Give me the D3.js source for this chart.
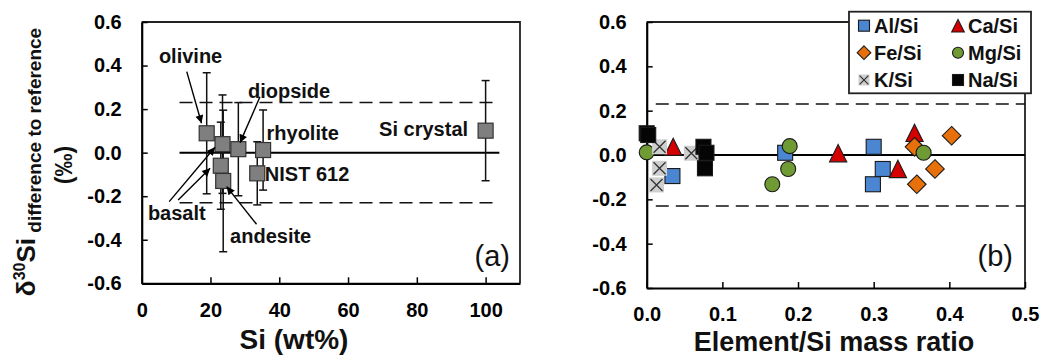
<!DOCTYPE html>
<html><head><meta charset="utf-8">
<script src="https://cdn.jsdelivr.net/npm/d3@7"></script>
<style>
body{margin:0;background:#fff;}
svg{display:block;font-family:"Liberation Sans",Arial,Helvetica,sans-serif;}
</style>
</head><body>
<svg id="c" width="1041" height="356"></svg>
<script>
// ---------------- data: panel (a) ----------------
const sampleNames = ["olivine","basalt","diopside","rhyolite","NIST 612","basalt","andesite","Si crystal"];
const siWt   = [18.9, 23.5, 28.1, 35.3, 33.6, 23.0, 23.7, 100];
const dSi    = [0.089, 0.039, 0.016, 0.012, -0.095, -0.060, -0.130, 0.101];
const dSiErr = [0.278, 0.226, 0.214, 0.184, 0.145, 0.200, 0.325, 0.230];
const refBand = 0.23;
const xTicksA = [0, 20, 40, 60, 80, 100];
const yTicks  = [0.6, 0.4, 0.2, 0.0, -0.2, -0.4, -0.6];

// ---------------- data: panel (b) ----------------
const alX = [0.034, 0.183, 0.300, 0.312, 0.299];
const alY = [-0.095, 0.010, 0.037, -0.063, -0.132];
const caX = [0.035, 0.253, 0.332, 0.354];
const caY = [0.037, 0.008, -0.063, 0.100];
const feX = [0.354, 0.357, 0.381, 0.403];
const feY = [0.037, -0.132, -0.063, 0.087];
const mgX = [0.000, 0.189, 0.187, 0.166, 0.366];
const mgY = [0.012, 0.040, -0.063, -0.132, 0.010];
const kX  = [0.017, 0.017, 0.013, 0.059];
const kY  = [0.037, -0.060, -0.135, 0.008];
const naX = [0.000, 0.002, 0.075, 0.079, 0.077];
const naY = [0.098, 0.090, 0.037, 0.010, -0.060];
const xTicksB = [0.0, 0.1, 0.2, 0.3, 0.4, 0.5];

const seriesB = [
  {name:"Al/Si", xs:alX, ys:alY, shape:"square",   fill:"#4a86d2"},
  {name:"Ca/Si", xs:caX, ys:caY, shape:"triangle", fill:"#d40000"},
  {name:"Fe/Si", xs:feX, ys:feY, shape:"diamond",  fill:"#e8700a"},
  {name:"Mg/Si", xs:mgX, ys:mgY, shape:"circle",   fill:"#6f9a34"},
  {name:"K/Si",  xs:kX,  ys:kY,  shape:"cross",    fill:"#cfcfcf"},
  {name:"Na/Si", xs:naX, ys:naY, shape:"square",   fill:"#050505"}
];

// annotation layout for panel (a) (in data units)
const labelsA = [
  {t:"olivine",  x:5.0,  y:0.412, anchor:"start"},
  {t:"diopside", x:30.9, y:0.251, anchor:"start"},
  {t:"rhyolite", x:36.3, y:0.058, anchor:"start"},
  {t:"NIST 612", x:35.8, y:-0.130, anchor:"start"},
  {t:"basalt",   x:1.8,  y:-0.309, anchor:"start"},
  {t:"andesite", x:25.7, y:-0.415, anchor:"start"},
  {t:"Si crystal", x:94.9, y:0.077, anchor:"end"}
];
const arrowsA = [
  {x1:13.1, y1:0.372, x2:17.4, y2:0.135},
  {x1:34.4, y1:0.257, x2:28.6, y2:0.046},
  {x1:8.0,  y1:-0.225, x2:21.3, y2:0.025},
  {x1:10.6, y1:-0.217, x2:19.9, y2:-0.072},
  {x1:33.4, y1:-0.329, x2:24.7, y2:-0.156}
];

const svg = d3.select("#c");
const FONT_TICK = 20, FONT_TITLE = 28, FONT_LABEL = 20;

svg.append("defs").append("marker")
  .attr("id","ah").attr("viewBox","0 0 10 10").attr("refX",10).attr("refY",5)
  .attr("markerWidth",9).attr("markerHeight",8).attr("markerUnits","userSpaceOnUse")
  .attr("orient","auto")
  .append("path").attr("d","M0,0 L10,5 L0,10 Z").attr("fill","#000");

// ---------------- panel (a) ----------------
const xA = d3.scaleLinear().domain([0,110]).range([141.7,520]);
const yA = d3.scaleLinear().domain([-0.6,0.6]).range([283.3,22]);
const gA = svg.append("g");

gA.append("path").attr("d",`M${xA(0)},${yA(0.6)}H${xA(110)}V${yA(-0.6)}`)
  .attr("fill","none").attr("stroke","#222").attr("stroke-width",1.8);

gA.append("line").attr("x1",xA(11)).attr("x2",xA(104)).attr("y1",yA(0)).attr("y2",yA(0))
  .attr("stroke","#000").attr("stroke-width",2);
[refBand,-refBand].forEach(v=>{
  gA.append("line").attr("x1",xA(11)).attr("x2",xA(104)).attr("y1",yA(v)).attr("y2",yA(v))
    .attr("stroke","#111").attr("stroke-width",1.6).attr("stroke-dasharray","13,7");
});

const axLA = gA.append("g").attr("transform",`translate(${xA(0)},0)`)
  .call(d3.axisLeft(yA).tickValues(yTicks).tickSizeInner(-6).tickSizeOuter(0).tickPadding(20)
    .tickFormat(d=>d.toFixed(1)));
const axBA = gA.append("g").attr("transform",`translate(0,${yA(-0.6)})`)
  .call(d3.axisBottom(xA).tickValues(xTicksA).tickSizeInner(-6).tickSizeOuter(0).tickPadding(20)
    .tickFormat(d=>String(d)));
[axLA, axBA].forEach(a=>{
  a.select(".domain").attr("stroke","#000").attr("stroke-width",2.2);
  a.selectAll(".tick line").attr("stroke","#000").attr("stroke-width",1.5);
  a.selectAll("text").attr("font-size",FONT_TICK).attr("font-weight","bold")
    .attr("font-family","'Liberation Sans',Arial,sans-serif").attr("fill","#000");
});
axBA.selectAll(".tick text").attr("y",20);

const idxA = d3.range(siWt.length);
const eb = gA.append("g").attr("stroke","#111").attr("stroke-width",1.5);
idxA.forEach(i=>{
  const cx = xA(siWt[i]);
  eb.append("line").attr("x1",cx).attr("x2",cx).attr("y1",yA(dSi[i]+dSiErr[i])).attr("y2",yA(dSi[i]-dSiErr[i]));
  [dSi[i]+dSiErr[i], dSi[i]-dSiErr[i]].forEach(v=>{
    eb.append("line").attr("x1",cx-4).attr("x2",cx+4).attr("y1",yA(v)).attr("y2",yA(v));
  });
});
gA.append("g").selectAll("rect").data(idxA).join("rect")
  .attr("x",i=>xA(siWt[i])-7.5).attr("y",i=>yA(dSi[i])-7.5)
  .attr("width",15).attr("height",15)
  .attr("fill","#7f7f7f").attr("stroke","#333").attr("stroke-width",1.2);

gA.append("g").selectAll("line").data(arrowsA).join("line")
  .attr("x1",d=>xA(d.x1)).attr("y1",d=>yA(d.y1)).attr("x2",d=>xA(d.x2)).attr("y2",d=>yA(d.y2))
  .attr("stroke","#000").attr("stroke-width",1.4).attr("marker-end","url(#ah)");
gA.append("g").selectAll("text").data(labelsA).join("text")
  .attr("x",d=>xA(d.x)).attr("y",d=>yA(d.y)).attr("text-anchor",d=>d.anchor)
  .attr("font-size",FONT_LABEL).attr("font-weight","bold").attr("fill","#111").text(d=>d.t);

gA.append("text").attr("x",510).attr("y",266).attr("text-anchor","end")
  .attr("font-size",29).attr("fill","#111").text("(a)");

gA.append("text").attr("x",294).attr("y",349).attr("text-anchor","middle")
  .attr("font-size",FONT_TITLE).attr("font-weight","bold").attr("fill","#111").text("Si (wt%)");

const yt = svg.append("text").attr("transform","translate(35,162) rotate(-90)")
  .attr("text-anchor","middle").attr("font-weight","bold").attr("fill","#111");
yt.append("tspan").attr("font-size",26).text("δ");
yt.append("tspan").attr("font-size",16).attr("dy",-10).text("30");
yt.append("tspan").attr("font-size",26).attr("dy",10).text("Si");
yt.append("tspan").attr("font-size",19).attr("dy",6).text(" difference to reference");
svg.append("text").attr("transform","translate(72,165) rotate(-90)")
  .attr("text-anchor","middle").attr("font-weight","bold").attr("font-size",23).attr("fill","#111").text("(‰)");

// ---------------- panel (b) ----------------
const xB = d3.scaleLinear().domain([0,0.5]).range([646.7,1025]);
const yB = d3.scaleLinear().domain([-0.6,0.6]).range([288,22]);
const gB = svg.append("g");

gB.append("path").attr("d",`M${xB(0)},${yB(0.6)}H${xB(0.5)}V${yB(-0.6)}`)
  .attr("fill","none").attr("stroke","#222").attr("stroke-width",1.8);

gB.append("line").attr("x1",xB(0)).attr("x2",xB(0.5)).attr("y1",yB(0)).attr("y2",yB(0))
  .attr("stroke","#000").attr("stroke-width",2);
[refBand,-refBand].forEach(v=>{
  gB.append("line").attr("x1",xB(0.012)).attr("x2",xB(0.5)).attr("y1",yB(v)).attr("y2",yB(v))
    .attr("stroke","#111").attr("stroke-width",1.6).attr("stroke-dasharray","13,7");
});

const axLB = gB.append("g").attr("transform",`translate(${xB(0)},0)`)
  .call(d3.axisLeft(yB).tickValues(yTicks).tickSizeInner(-6).tickSizeOuter(0).tickPadding(20)
    .tickFormat(d=>d.toFixed(1)));
const axBB = gB.append("g").attr("transform",`translate(0,${yB(-0.6)})`)
  .call(d3.axisBottom(xB).tickValues(xTicksB).tickSizeInner(-6).tickSizeOuter(0).tickPadding(20)
    .tickFormat(d=>d.toFixed(1)));
[axLB, axBB].forEach(a=>{
  a.select(".domain").attr("stroke","#000").attr("stroke-width",2.2);
  a.selectAll(".tick line").attr("stroke","#000").attr("stroke-width",1.5);
  a.selectAll("text").attr("font-size",FONT_TICK).attr("font-weight","bold")
    .attr("font-family","'Liberation Sans',Arial,sans-serif").attr("fill","#000");
});
axBB.selectAll(".tick text").attr("y",18.5);

function drawMarker(g, shape, fill, cx, cy, s){
  const h = s/2;
  if(shape==="square"){
    g.append("rect").attr("x",cx-h).attr("y",cy-h).attr("width",s).attr("height",s)
      .attr("fill",fill).attr("stroke","#1a1a1a").attr("stroke-width",1.1);
  } else if(shape==="triangle"){
    const w = s*1.15;
    g.append("path").attr("d",`M${cx},${cy-w/2}L${cx+w/2},${cy+w/2}L${cx-w/2},${cy+w/2}Z`)
      .attr("fill",fill).attr("stroke","#1a1a1a").attr("stroke-width",1.1);
  } else if(shape==="diamond"){
    const d = s*0.62;
    g.append("path").attr("d",`M${cx},${cy-d}L${cx+d},${cy}L${cx},${cy+d}L${cx-d},${cy}Z`)
      .attr("fill",fill).attr("stroke","#1a1a1a").attr("stroke-width",1.1);
  } else if(shape==="circle"){
    g.append("circle").attr("cx",cx).attr("cy",cy).attr("r",h)
      .attr("fill",fill).attr("stroke","#1a1a1a").attr("stroke-width",1.1);
  } else if(shape==="cross"){
    g.append("rect").attr("x",cx-h).attr("y",cy-h).attr("width",s).attr("height",s).attr("fill",fill);
    const c = h*0.8;
    g.append("path").attr("d",`M${cx-c},${cy-c}L${cx+c},${cy+c}M${cx+c},${cy-c}L${cx-c},${cy+c}`)
      .attr("stroke","#333").attr("stroke-width",1.3);
  }
}

const gM = gB.append("g");
seriesB.forEach(s=>{
  s.xs.forEach((x,i)=> drawMarker(gM, s.shape, s.fill, xB(x), yB(s.ys[i]), 15));
});

const lg = svg.append("g");
lg.append("rect").attr("x",849).attr("y",11.7).attr("width",182).attr("height",81.6)
  .attr("fill","#fff").attr("stroke","#222").attr("stroke-width",1.8);
const legCols = [864, 958], legRows = [25.7, 52.7, 80];
seriesB.forEach((s,i)=>{
  const cx = legCols[i%2], cy = legRows[Math.floor(i/2)];
  drawMarker(lg, s.shape, s.fill, cx, cy, 11);
  lg.append("text").attr("x",cx+10).attr("y",cy+7).attr("font-size",FONT_LABEL)
    .attr("font-weight","bold").attr("fill","#111").text(s.name);
});

gB.append("text").attr("x",1013).attr("y",266).attr("text-anchor","end")
  .attr("font-size",29).attr("fill","#111").text("(b)");
gB.append("text").attr("x",834).attr("y",350.5).attr("text-anchor","middle")
  .attr("font-size",27).attr("font-weight","bold").attr("fill","#111").text("Element/Si mass ratio");
</script>
</body></html>
